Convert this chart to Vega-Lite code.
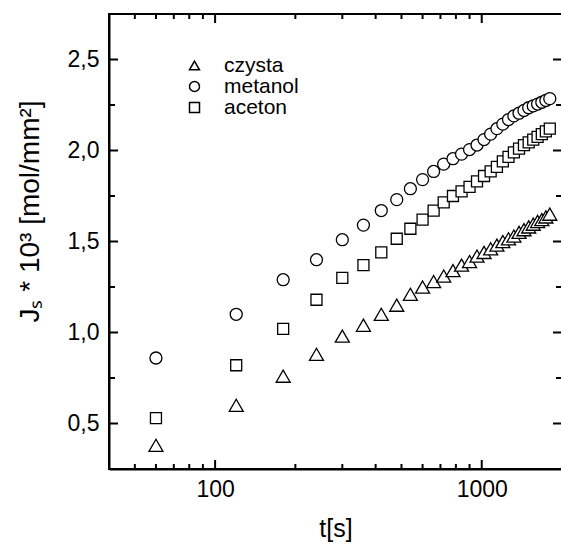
{
  "$schema": "https://vega.github.io/schema/vega-lite/v6.json",
  "width": 453,
  "height": 455,
  "autosize": {"type": "none"},
  "padding": {"left": 109, "top": 14, "right": 0, "bottom": 75},
  "background": "white",
  "config": {
    "view": {"stroke": "black", "strokeWidth": 2},
    "font": "Liberation Sans",
    "axis": {
      "grid": false,
      "domainColor": "black",
      "domainWidth": 2,
      "labelColor": "black",
      "labelFont": "Liberation Sans",
      "labelFontSize": 23,
      "labelOverlap": false,
      "labelFlush": false,
      "labelBound": false,
      "titleColor": "black",
      "titleFont": "Liberation Sans",
      "titleFontWeight": "normal"
    }
  },
  "datasets": {
    "points": [
      {"s": "czysta", "t": 60, "J": 0.38}, {"s": "czysta", "t": 120, "J": 0.60}, {"s": "czysta", "t": 180, "J": 0.76},
      {"s": "czysta", "t": 240, "J": 0.88}, {"s": "czysta", "t": 300, "J": 0.98}, {"s": "czysta", "t": 360, "J": 1.04},
      {"s": "czysta", "t": 420, "J": 1.10}, {"s": "czysta", "t": 480, "J": 1.15}, {"s": "czysta", "t": 540, "J": 1.21},
      {"s": "czysta", "t": 600, "J": 1.25}, {"s": "czysta", "t": 660, "J": 1.28}, {"s": "czysta", "t": 720, "J": 1.31},
      {"s": "czysta", "t": 780, "J": 1.34}, {"s": "czysta", "t": 840, "J": 1.37}, {"s": "czysta", "t": 900, "J": 1.39},
      {"s": "czysta", "t": 960, "J": 1.42}, {"s": "czysta", "t": 1020, "J": 1.44}, {"s": "czysta", "t": 1080, "J": 1.46},
      {"s": "czysta", "t": 1140, "J": 1.48}, {"s": "czysta", "t": 1200, "J": 1.50}, {"s": "czysta", "t": 1260, "J": 1.515},
      {"s": "czysta", "t": 1320, "J": 1.53}, {"s": "czysta", "t": 1380, "J": 1.55}, {"s": "czysta", "t": 1440, "J": 1.565},
      {"s": "czysta", "t": 1500, "J": 1.58}, {"s": "czysta", "t": 1560, "J": 1.595}, {"s": "czysta", "t": 1620, "J": 1.61},
      {"s": "czysta", "t": 1680, "J": 1.62}, {"s": "czysta", "t": 1740, "J": 1.635}, {"s": "czysta", "t": 1800, "J": 1.65},
      {"s": "metanol", "t": 60, "J": 0.86}, {"s": "metanol", "t": 120, "J": 1.10}, {"s": "metanol", "t": 180, "J": 1.29},
      {"s": "metanol", "t": 240, "J": 1.40}, {"s": "metanol", "t": 300, "J": 1.51}, {"s": "metanol", "t": 360, "J": 1.59},
      {"s": "metanol", "t": 420, "J": 1.67}, {"s": "metanol", "t": 480, "J": 1.73}, {"s": "metanol", "t": 540, "J": 1.79},
      {"s": "metanol", "t": 600, "J": 1.84}, {"s": "metanol", "t": 660, "J": 1.885}, {"s": "metanol", "t": 720, "J": 1.925},
      {"s": "metanol", "t": 780, "J": 1.955}, {"s": "metanol", "t": 840, "J": 1.98}, {"s": "metanol", "t": 900, "J": 2.005},
      {"s": "metanol", "t": 960, "J": 2.03}, {"s": "metanol", "t": 1020, "J": 2.06}, {"s": "metanol", "t": 1080, "J": 2.09},
      {"s": "metanol", "t": 1140, "J": 2.12}, {"s": "metanol", "t": 1200, "J": 2.145}, {"s": "metanol", "t": 1260, "J": 2.17},
      {"s": "metanol", "t": 1320, "J": 2.19}, {"s": "metanol", "t": 1380, "J": 2.205}, {"s": "metanol", "t": 1440, "J": 2.22},
      {"s": "metanol", "t": 1500, "J": 2.235}, {"s": "metanol", "t": 1560, "J": 2.245}, {"s": "metanol", "t": 1620, "J": 2.255},
      {"s": "metanol", "t": 1680, "J": 2.265}, {"s": "metanol", "t": 1740, "J": 2.275}, {"s": "metanol", "t": 1800, "J": 2.285},
      {"s": "aceton", "t": 60, "J": 0.53}, {"s": "aceton", "t": 120, "J": 0.82}, {"s": "aceton", "t": 180, "J": 1.02},
      {"s": "aceton", "t": 240, "J": 1.18}, {"s": "aceton", "t": 300, "J": 1.30}, {"s": "aceton", "t": 360, "J": 1.37},
      {"s": "aceton", "t": 420, "J": 1.44}, {"s": "aceton", "t": 480, "J": 1.515}, {"s": "aceton", "t": 540, "J": 1.57},
      {"s": "aceton", "t": 600, "J": 1.62}, {"s": "aceton", "t": 660, "J": 1.67}, {"s": "aceton", "t": 720, "J": 1.715},
      {"s": "aceton", "t": 780, "J": 1.75}, {"s": "aceton", "t": 840, "J": 1.775}, {"s": "aceton", "t": 900, "J": 1.80},
      {"s": "aceton", "t": 960, "J": 1.83}, {"s": "aceton", "t": 1020, "J": 1.86}, {"s": "aceton", "t": 1080, "J": 1.885},
      {"s": "aceton", "t": 1140, "J": 1.91}, {"s": "aceton", "t": 1200, "J": 1.94}, {"s": "aceton", "t": 1260, "J": 1.965},
      {"s": "aceton", "t": 1320, "J": 1.99}, {"s": "aceton", "t": 1380, "J": 2.01}, {"s": "aceton", "t": 1440, "J": 2.03},
      {"s": "aceton", "t": 1500, "J": 2.045}, {"s": "aceton", "t": 1560, "J": 2.06}, {"s": "aceton", "t": 1620, "J": 2.075},
      {"s": "aceton", "t": 1680, "J": 2.09}, {"s": "aceton", "t": 1740, "J": 2.105}, {"s": "aceton", "t": 1800, "J": 2.12}
    ],
    "xmajor": [{"t": 100}, {"t": 1000}],
    "xminor": [{"t": 50}, {"t": 60}, {"t": 70}, {"t": 80}, {"t": 90}, {"t": 200}, {"t": 300}, {"t": 400}, {"t": 500}, {"t": 600}, {"t": 700}, {"t": 800}, {"t": 900}, {"t": 2000}],
    "ymajor": [{"J": 0.5}, {"J": 1.0}, {"J": 1.5}, {"J": 2.0}, {"J": 2.5}],
    "yminor": [{"J": 0.75}, {"J": 1.25}, {"J": 1.75}, {"J": 2.25}]
  },
  "layer": [
    {
      "data": {"name": "points"},
      "mark": {"type": "point", "fill": "white", "fillOpacity": 1, "stroke": "black", "strokeWidth": 1.3, "opacity": 1},
      "encoding": {
        "x": {
          "field": "t",
          "type": "quantitative",
          "scale": {"type": "log", "domain": [40, 2000], "nice": false},
          "axis": {
            "orient": "bottom",
            "values": [100, 1000],
            "format": "d",
            "ticks": false,
            "labelPadding": 9,
            "title": "t[s]",
            "titleFontSize": 25,
            "titleX": 226.5,
            "titleY": 67.7,
            "titleAlign": "center",
            "titleBaseline": "alphabetic"
          }
        },
        "y": {
          "field": "J",
          "type": "quantitative",
          "scale": {"domain": [0.25, 2.75], "nice": false, "zero": false},
          "axis": {
            "orient": "left",
            "values": [0.5, 1.0, 1.5, 2.0, 2.5],
            "labelExpr": "replace(format(datum.value, '.1f'), '.', ',')",
            "ticks": false,
            "labelPadding": 10,
            "title": "Jₛ * 10³ [mol/mm²]",
            "titleFontSize": 28,
            "titleAngle": 270,
            "titleX": -71,
            "titleY": 197,
            "titleAlign": "center",
            "titleBaseline": "alphabetic"
          }
        },
        "shape": {
          "field": "s",
          "type": "nominal",
          "scale": {"domain": ["czysta", "metanol", "aceton"], "range": ["triangle-up", "circle", "square"]},
          "legend": {
            "orient": "none",
            "legendX": 75,
            "legendY": 41,
            "title": null,
            "labelFont": "Liberation Sans",
            "labelFontSize": 21,
            "labelColor": "black",
            "labelOffset": 19,
            "rowPadding": -7
          }
        },
        "size": {
          "condition": [
            {"test": "datum.s === 'czysta'", "value": 196},
            {"test": "datum.s === 'metanol'", "value": 144}
          ],
          "value": 121
        }
      }
    },
    {
      "data": {"name": "xmajor"},
      "mark": {"type": "rule", "color": "black", "strokeWidth": 2, "y2Offset": -9},
      "encoding": {"x": {"field": "t", "type": "quantitative"}, "y": {"datum": 0.25}, "y2": {"datum": 0.25}}
    },
    {
      "data": {"name": "xmajor"},
      "mark": {"type": "rule", "color": "black", "strokeWidth": 2, "y2Offset": 9},
      "encoding": {"x": {"field": "t", "type": "quantitative"}, "y": {"datum": 2.75}, "y2": {"datum": 2.75}}
    },
    {
      "data": {"name": "xminor"},
      "mark": {"type": "rule", "color": "black", "strokeWidth": 2, "y2Offset": -5},
      "encoding": {"x": {"field": "t", "type": "quantitative"}, "y": {"datum": 0.25}, "y2": {"datum": 0.25}}
    },
    {
      "data": {"name": "xminor"},
      "mark": {"type": "rule", "color": "black", "strokeWidth": 2, "y2Offset": 5},
      "encoding": {"x": {"field": "t", "type": "quantitative"}, "y": {"datum": 2.75}, "y2": {"datum": 2.75}}
    },
    {
      "data": {"name": "ymajor"},
      "mark": {"type": "rule", "color": "black", "strokeWidth": 2, "x2Offset": 9},
      "encoding": {"y": {"field": "J", "type": "quantitative"}, "x": {"datum": 40}, "x2": {"datum": 40}}
    },
    {
      "data": {"name": "ymajor"},
      "mark": {"type": "rule", "color": "black", "strokeWidth": 2, "x2Offset": -9},
      "encoding": {"y": {"field": "J", "type": "quantitative"}, "x": {"datum": 2000}, "x2": {"datum": 2000}}
    },
    {
      "data": {"name": "yminor"},
      "mark": {"type": "rule", "color": "black", "strokeWidth": 2, "x2Offset": 6},
      "encoding": {"y": {"field": "J", "type": "quantitative"}, "x": {"datum": 40}, "x2": {"datum": 40}}
    },
    {
      "data": {"name": "yminor"},
      "mark": {"type": "rule", "color": "black", "strokeWidth": 2, "x2Offset": -6},
      "encoding": {"y": {"field": "J", "type": "quantitative"}, "x": {"datum": 2000}, "x2": {"datum": 2000}}
    }
  ]
}
